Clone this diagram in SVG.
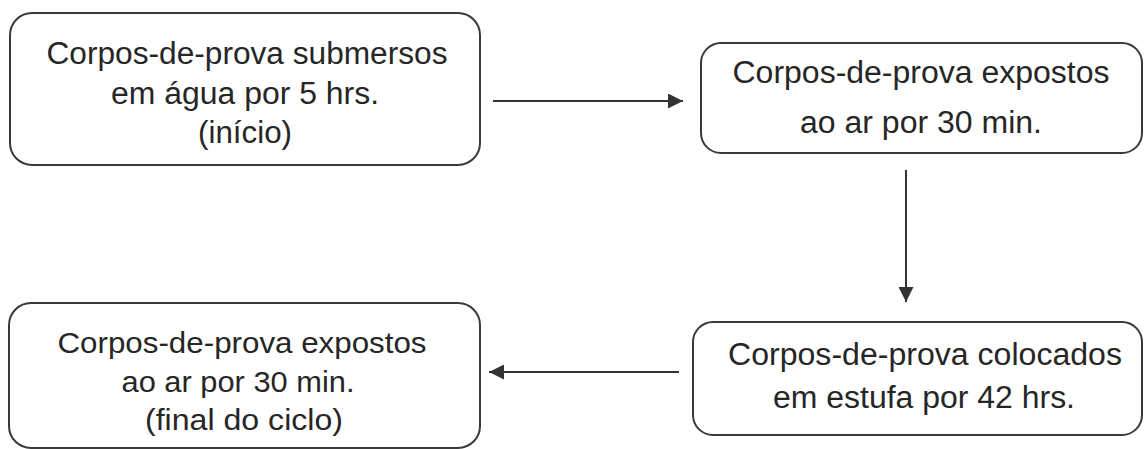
<svg xmlns="http://www.w3.org/2000/svg" width="1144" height="449" viewBox="0 0 1144 449">
<style>
.box{fill:#fff;stroke:#3a3a3a;stroke-width:2}
.t{font-family:"Liberation Sans",Arial,sans-serif;font-size:31px;fill:#262626;text-anchor:middle}
.s{font-size:29px}
.c{stroke:#333;stroke-width:2;fill:none}
</style>
<defs>
<marker id="ah" viewBox="0 0 10 10" refX="10" refY="5" markerUnits="userSpaceOnUse" markerWidth="15" markerHeight="15" orient="auto">
<path d="M0,0 L10,5 L0,10 Z" fill="#333"/>
</marker>
</defs>
<rect width="1144" height="449" fill="#fff"/>
<g id="n1">
<rect class="box" x="10" y="13" width="470" height="152" rx="22"/>
<text class="t" x="247" y="64" textLength="401" lengthAdjust="spacingAndGlyphs">Corpos-de-prova submersos</text>
<text class="t" x="245" y="104" textLength="268" lengthAdjust="spacingAndGlyphs">em água por 5 hrs.</text>
<text class="t" x="245" y="143" textLength="94" lengthAdjust="spacingAndGlyphs">(início)</text>
</g>
<g id="n2">
<rect class="box" x="701" y="43" width="441" height="110" rx="20"/>
<text class="t" x="921" y="83" textLength="377" lengthAdjust="spacingAndGlyphs">Corpos-de-prova expostos</text>
<text class="t" x="921" y="133" textLength="242" lengthAdjust="spacingAndGlyphs">ao ar por 30 min.</text>
</g>
<g id="n3">
<rect class="box" x="693" y="322" width="449" height="113" rx="20"/>
<text class="t" x="925" y="365" textLength="394" lengthAdjust="spacingAndGlyphs">Corpos-de-prova colocados</text>
<text class="t" x="924" y="408" textLength="302" lengthAdjust="spacingAndGlyphs">em estufa por 42 hrs.</text>
</g>
<g id="n4">
<rect class="box" x="9" y="303" width="471" height="145" rx="22"/>
<text class="t s" x="242" y="353" textLength="369" lengthAdjust="spacingAndGlyphs">Corpos-de-prova expostos</text>
<text class="t s" x="238" y="392" textLength="233" lengthAdjust="spacingAndGlyphs">ao ar por 30 min.</text>
<text class="t s" x="244" y="430" textLength="198" lengthAdjust="spacingAndGlyphs">(final do ciclo)</text>
</g>
<g id="connectors">
<line class="c" x1="493" y1="101" x2="683" y2="101" marker-end="url(#ah)"/>
<line class="c" x1="906" y1="170" x2="906" y2="302" marker-end="url(#ah)"/>
<line class="c" x1="679" y1="372" x2="489" y2="372" marker-end="url(#ah)"/>
</g>
</svg>
